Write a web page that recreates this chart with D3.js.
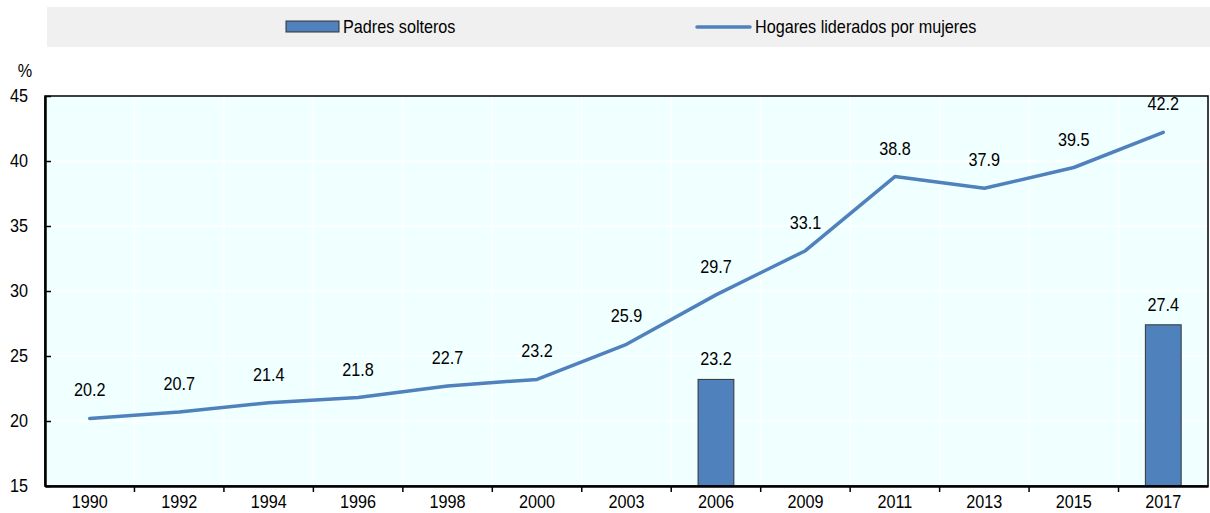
<!DOCTYPE html>
<html>
<head>
<meta charset="utf-8">
<script src="https://cdn.jsdelivr.net/npm/d3@7"></script>
<style>
  body { margin: 0; background: #fff; }
  text { font-family: "Liberation Sans", Arial, sans-serif; font-size: 18px; fill: #000; }
</style>
</head>
<body>
<svg id="chart" width="1210" height="513"></svg>
<script>
const years = ["1990", "1992", "1994", "1996", "1998", "2000", "2003", "2006", "2009", "2011", "2013", "2015", "2017"];
const womenLed = [20.2, 20.7, 21.4, 21.8, 22.7, 23.2, 25.9, 29.7, 33.1, 38.8, 37.9, 39.5, 42.2];
const singleParents = [null, null, null, null, null, null, null, 23.2, null, null, null, null, 27.4];
const yTicks = [15, 20, 25, 30, 35, 40, 45];
const seriesNames = ["Padres solteros", "Hogares liderados por mujeres"];

const blue = "#4f81bd";
const margin = { top: 96, right: 2, bottom: 27, left: 45 };
const W = 1210, H = 513;
const width = W - margin.left - margin.right;
const height = H - margin.top - margin.bottom;

// the reference font is a narrow one, squeeze the text a bit
function narrow(sel) {
  sel.each(function () {
    const t = d3.select(this);
    const tx = +t.attr("x") || 0;
    const ty = +t.attr("y") || 0;
    t.attr("x", 0).attr("y", 0).attr("transform", `translate(${tx},${ty}) scale(0.9,1)`);
  });
}

const svg = d3.select("#chart");

// legend band
const legend = svg.append("g");
legend.append("rect").attr("x", 47).attr("y", 7).attr("width", 1163).attr("height", 40).attr("fill", "#f0f0f0");
legend.append("rect").attr("x", 286).attr("y", 21).attr("width", 53).attr("height", 11)
  .attr("fill", blue).attr("stroke", "#333").attr("stroke-width", 1);
legend.append("text").attr("x", 343).attr("y", 33).text(seriesNames[0]);
legend.append("line").attr("x1", 697).attr("x2", 750).attr("y1", 27).attr("y2", 27)
  .attr("stroke", blue).attr("stroke-width", 3.5).attr("stroke-linecap", "round");
legend.append("text").attr("x", 755).attr("y", 33).text(seriesNames[1]);
narrow(legend.selectAll("text"));

const g = svg.append("g").attr("transform", `translate(${margin.left},${margin.top})`);

const x = d3.scaleBand().domain(years).range([0, width]);
const y = d3.scaleLinear().domain([15, 45]).range([height, 0]);

g.append("rect").attr("width", width).attr("height", height).attr("fill", "#f0ffff");

// gridlines
g.selectAll(".hgrid").data(yTicks.slice(1, -1)).enter().append("line")
  .attr("x1", 0).attr("x2", width)
  .attr("y1", d => y(d)).attr("y2", d => y(d))
  .attr("stroke", "#fff").attr("stroke-width", 1.5);
g.selectAll(".vgrid").data(years.slice(1)).enter().append("line")
  .attr("x1", d => x(d)).attr("x2", d => x(d))
  .attr("y1", 0).attr("y2", height)
  .attr("stroke", "#fff").attr("stroke-width", 1.5);

// bars
const barW = x.bandwidth() * 0.4;
const barData = years.map((d, i) => ({ year: d, v: singleParents[i] })).filter(d => d.v != null);
g.selectAll(".bar").data(barData).enter().append("rect")
  .attr("x", d => x(d.year) + (x.bandwidth() - barW) / 2)
  .attr("y", d => y(d.v))
  .attr("width", barW)
  .attr("height", d => height - y(d.v))
  .attr("fill", blue).attr("stroke", "#333").attr("stroke-width", 1);
g.selectAll(".barlabel").data(barData).enter().append("text")
  .attr("x", d => x(d.year) + x.bandwidth() / 2)
  .attr("y", d => y(d.v) - 14)
  .attr("text-anchor", "middle")
  .text(d => d.v.toFixed(1))
  .call(narrow);

// line
const lineData = years.map((d, i) => ({ year: d, v: womenLed[i] }));
const line = d3.line().x(d => x(d.year) + x.bandwidth() / 2).y(d => y(d.v));
g.append("path").datum(lineData).attr("d", line)
  .attr("fill", "none").attr("stroke", blue).attr("stroke-width", 3.5)
  .attr("stroke-linejoin", "round").attr("stroke-linecap", "round");
g.selectAll(".linelabel").data(lineData).enter().append("text")
  .attr("x", d => x(d.year) + x.bandwidth() / 2)
  .attr("y", d => y(d.v) - 22)
  .attr("text-anchor", "middle")
  .text(d => d.v.toFixed(1))
  .call(narrow);

// frame
g.append("rect").attr("width", width).attr("height", height)
  .attr("fill", "none").attr("stroke", "#000").attr("stroke-width", 1.5);

// y axis
const yAxis = g.append("g").call(d3.axisLeft(y).tickValues(yTicks).tickSizeInner(-6).tickSizeOuter(0).tickPadding(17));
yAxis.select(".domain").attr("stroke-width", 2.5);
yAxis.selectAll(".tick line").attr("stroke-width", 1.5);
yAxis.selectAll("text").style("font-size", "18px").style("font-family", null).call(narrow);

// x axis
const xAxis = g.append("g").attr("transform", `translate(0,${height})`)
  .call(d3.axisBottom(x).tickSize(0).tickPadding(9));
xAxis.select(".domain").attr("stroke-width", 2.5);
xAxis.selectAll("text").style("font-size", "18px").style("font-family", null).call(narrow);
g.append("g").attr("transform", `translate(0,${height})`)
  .selectAll("line").data(years.slice(1)).enter().append("line")
  .attr("x1", d => x(d)).attr("x2", d => x(d))
  .attr("y1", 0).attr("y2", 6).attr("stroke", "#000").attr("stroke-width", 1.5);

g.append("text").attr("x", -20).attr("y", -19).attr("text-anchor", "middle")
  .text("%").call(narrow);
</script>
</body>
</html>
